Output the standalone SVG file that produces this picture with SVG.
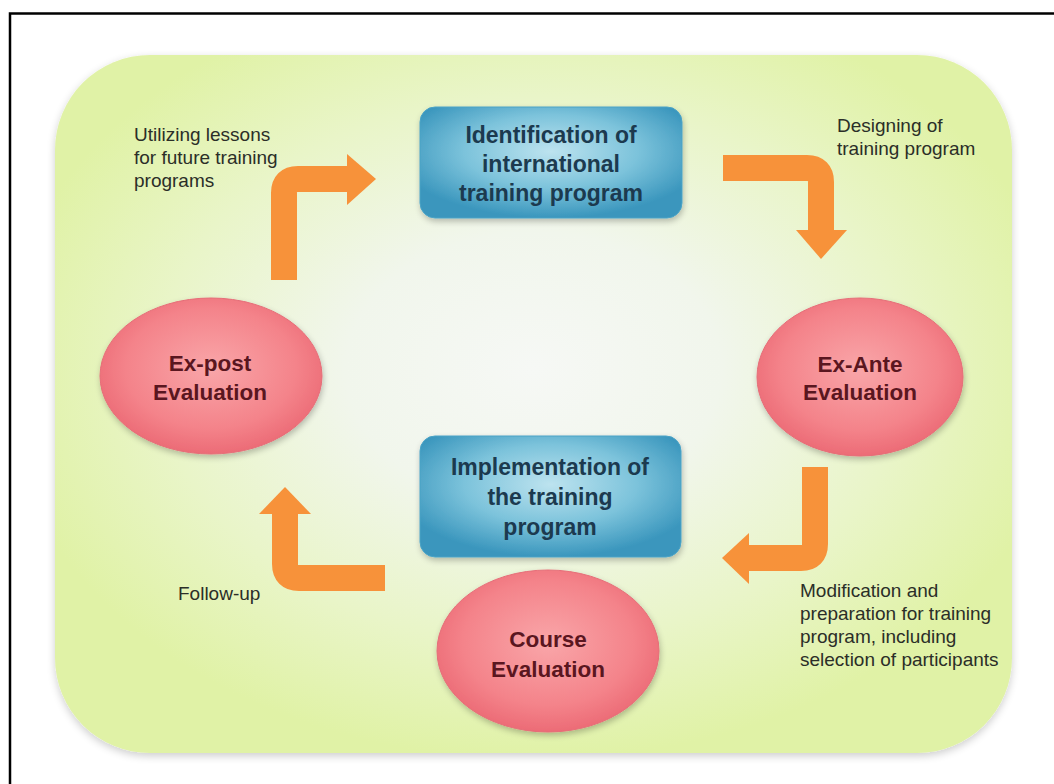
<svg xmlns="http://www.w3.org/2000/svg" width="1054" height="784" viewBox="0 0 1054 784">
  <defs>
    <radialGradient id="panelFill" cx="0.5" cy="0.45" r="0.56">
      <stop offset="0" stop-color="#f6f8f5"/>
      <stop offset="0.35" stop-color="#f1f6ec"/>
      <stop offset="0.7" stop-color="#e9f5c8"/>
      <stop offset="1" stop-color="#e0f2a6"/>
    </radialGradient>
    <radialGradient id="boxFill" cx="0.5" cy="0.4" r="0.6">
      <stop offset="0" stop-color="#bde3ef"/>
      <stop offset="0.55" stop-color="#7cc3db"/>
      <stop offset="1" stop-color="#3a96bd"/>
    </radialGradient>
    <radialGradient id="ovalFill" cx="0.5" cy="0.45" r="0.55">
      <stop offset="0" stop-color="#f9a6a9"/>
      <stop offset="0.7" stop-color="#f4838a"/>
      <stop offset="1" stop-color="#ec6b76"/>
    </radialGradient>
    <filter id="softShadow" x="-10%" y="-10%" width="120%" height="130%">
      <feGaussianBlur in="SourceAlpha" stdDeviation="3"/>
      <feOffset dx="1" dy="3" result="blur"/>
      <feComponentTransfer><feFuncA type="linear" slope="0.25"/></feComponentTransfer>
      <feMerge><feMergeNode/><feMergeNode in="SourceGraphic"/></feMerge>
    </filter>
    <filter id="panelShadow" x="-5%" y="-5%" width="110%" height="110%">
      <feGaussianBlur in="SourceAlpha" stdDeviation="4"/>
      <feOffset dx="0" dy="3"/>
      <feComponentTransfer><feFuncA type="linear" slope="0.2"/></feComponentTransfer>
      <feMerge><feMergeNode/><feMergeNode in="SourceGraphic"/></feMerge>
    </filter>
    <style>
      .box { fill: url(#boxFill); stroke: #4aa3c6; stroke-width: 1; filter: url(#softShadow); }
      .oval { fill: url(#ovalFill); stroke: #e66d78; stroke-width: 1; filter: url(#softShadow); }
      .boxText { font-family: "Liberation Sans", Arial, sans-serif; font-weight: bold; font-size: 23px; fill: #1c3a4f; text-anchor: middle; }
      .ovalText { font-family: "Liberation Sans", Arial, sans-serif; font-weight: bold; font-size: 22.5px; fill: #5a1620; text-anchor: middle; }
      .label { font-family: "Liberation Sans", Arial, sans-serif; font-size: 19px; fill: #2b2e28; }
      .shaft { fill: none; stroke: #f7923a; stroke-width: 26; stroke-linecap: butt; stroke-linejoin: round; }
      .head { fill: #f7923a; }
    </style>
  </defs>

  <!-- page background and frame -->
  <rect x="0" y="0" width="1054" height="784" fill="#ffffff"/>
  <path d="M10 784 V13.5 H1054" fill="none" stroke="#000000" stroke-width="2.5"/>

  <!-- rounded green panel -->
  <rect x="55" y="55" width="957" height="698" rx="95" ry="95" fill="url(#panelFill)" filter="url(#panelShadow)"/>

  <!-- cycle arrows -->
  <g id="connectors">
    <g id="arrow-expost-to-identification">
      <path class="shaft" d="M284 280 V193 Q284 179 298 179 H348"/>
      <polygon class="head" points="347,154 376,179 347,205"/>
    </g>
    <g id="arrow-identification-to-exante">
      <path class="shaft" d="M723 168 H807 Q821 168 821 182 V231"/>
      <polygon class="head" points="796,230 847,230 821,259"/>
    </g>
    <g id="arrow-exante-to-course">
      <path class="shaft" d="M815 467 V544 Q815 558 801 558 H748"/>
      <polygon class="head" points="749,533 749,584 722,558"/>
    </g>
    <g id="arrow-course-to-expost">
      <path class="shaft" d="M385 578 H299 Q285 578 285 564 V513"/>
      <polygon class="head" points="259,514 311,514 285,487"/>
    </g>
  </g>

  <!-- process boxes -->
  <g id="identification">
    <rect class="box" x="420" y="107" width="262" height="111" rx="15" ry="15"/>
    <text class="boxText" x="551" y="143">Identification of</text>
    <text class="boxText" x="551" y="172">international</text>
    <text class="boxText" x="551" y="201">training program</text>
  </g>

  <g id="implementation">
    <rect class="box" x="420" y="436" width="261" height="121" rx="15" ry="15"/>
    <text class="boxText" x="550" y="475">Implementation of</text>
    <text class="boxText" x="550" y="505">the training</text>
    <text class="boxText" x="550" y="535">program</text>
  </g>

  <!-- evaluation stages -->
  <g id="ex-post">
    <ellipse class="oval" cx="211" cy="376" rx="111" ry="78"/>
    <text class="ovalText" x="210" y="371">Ex-post</text>
    <text class="ovalText" x="210" y="400">Evaluation</text>
  </g>

  <g id="ex-ante">
    <ellipse class="oval" cx="860" cy="377" rx="103" ry="79"/>
    <text class="ovalText" x="860" y="372">Ex-Ante</text>
    <text class="ovalText" x="860" y="400">Evaluation</text>
  </g>

  <g id="course">
    <ellipse class="oval" cx="548" cy="651" rx="111" ry="81"/>
    <text class="ovalText" x="548" y="647">Course</text>
    <text class="ovalText" x="548" y="677">Evaluation</text>
  </g>

  <!-- step labels -->
  <g id="labels">
    <text class="label" x="134" y="141">Utilizing lessons</text>
    <text class="label" x="134" y="164">for future training</text>
    <text class="label" x="134" y="187">programs</text>

    <text class="label" x="837" y="132">Designing of</text>
    <text class="label" x="837" y="155">training program</text>

    <text class="label" x="178" y="600">Follow-up</text>

    <text class="label" x="800" y="597">Modification and</text>
    <text class="label" x="800" y="620">preparation for training</text>
    <text class="label" x="800" y="643">program, including</text>
    <text class="label" x="800" y="666">selection of participants</text>
  </g>
</svg>
